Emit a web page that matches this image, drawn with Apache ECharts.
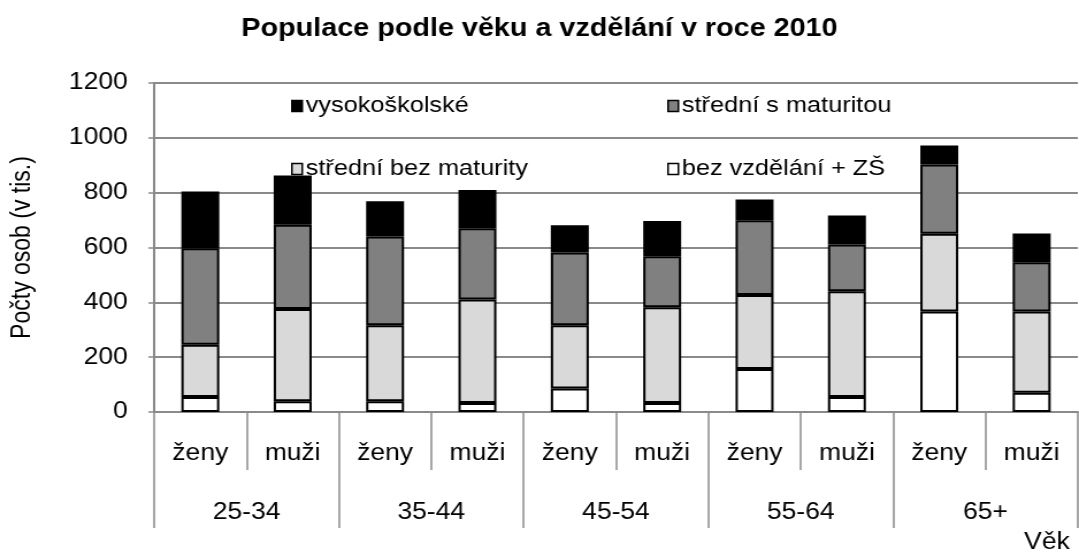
<!DOCTYPE html>
<html>
<head>
<meta charset="utf-8">
<script src="https://cdn.jsdelivr.net/npm/echarts@6/dist/echarts.min.js"></script>
<style>
  html, body { margin: 0; padding: 0; background: #fff; overflow: hidden; }
  /* the source picture is stretched sideways, so the chart is drawn narrower and widened */
  #main { width: 938px; height: 556px; transform: scaleX(1.1503); transform-origin: 0 0; }
</style>
</head>
<body>
<div id="main"></div>
<script>
var myChart = echarts.init(document.getElementById('main'));

var pohlavi = ['ženy', 'muži', 'ženy', 'muži', 'ženy', 'muži', 'ženy', 'muži', 'ženy', 'muži'];
var vekoveSkupiny = ['25-34', '35-44', '45-54', '55-64', '65+'];
var yTicks = [0, 200, 400, 600, 800, 1000, 1200];

// hodnoty v tis. osob, od spodu sloupce nahoru
var bezVzdelani = [55, 39, 39, 33, 86, 33, 157, 55, 367, 70];
var bezMaturity = [190, 337, 277, 377, 230, 349, 270, 385, 283, 297];
var sMaturitou = [352, 307, 324, 260, 266, 186, 272, 171, 253, 179];
var vysokoskolske = [207, 180, 129, 140, 99, 129, 76, 106, 69, 105];

var gray = '#8a8a8a';
var font = 'Liberation Sans, Arial, sans-serif';

function serie(name, data, color) {
    return {
        name: name,
        type: 'bar',
        stack: 'celkem',
        barWidth: 33,
        data: data,
        itemStyle: {
            color: color,
            borderColor: '#000',
            borderWidth: 2
        }
    };
}

function legenda(name, left, top) {
    return {
        data: [name],
        left: left,
        top: top,
        icon: 'rect',
        itemWidth: 9,
        itemHeight: 11,
        itemGap: 4,
        itemStyle: { borderColor: '#000', borderWidth: 1.5 },
        textStyle: { fontFamily: font, fontSize: 22, color: '#000', padding: [0, 0, 0, -2] }
    };
}

var option = {
    backgroundColor: '#fff',
    animation: false,
    title: [
        {
            text: 'Populace podle věku a vzdělání v roce 2010',
            left: 'center',
            top: 12,
            padding: [5, 0, 5, 26],
            textStyle: { fontFamily: font, fontSize: 25, fontWeight: 'bold', color: '#000' }
        },
        {
            text: 'Věk',
            right: 3,
            top: 526,
            textStyle: { fontFamily: font, fontSize: 23, fontWeight: 'normal', color: '#000' }
        }
    ],
    legend: [
        legenda('vysokoškolské', 248, 90),
        legenda('střední s maturitou', 575, 90),
        legenda('střední bez maturity', 248, 153),
        legenda('bez vzdělání + ZŠ', 575, 153)
    ],
    grid: {
        left: 133,
        right: 1,
        top: 83,
        bottom: 144
    },
    xAxis: [
        {
            type: 'category',
            data: pohlavi,
            axisLine: { lineStyle: { color: gray, width: 2 } },
            axisTick: { show: true, length: 58, lineStyle: { color: gray, width: 1.5 } },
            axisLabel: { margin: 30, fontFamily: font, fontSize: 23, color: '#000' }
        },
        {
            type: 'category',
            data: vekoveSkupiny,
            position: 'bottom',
            axisLine: { show: false },
            axisTick: { show: true, length: 116, lineStyle: { color: gray, width: 1.5 } },
            axisLabel: { margin: 89, fontFamily: font, fontSize: 23, color: '#000' }
        }
    ],
    yAxis: {
        type: 'value',
        min: yTicks[0],
        max: yTicks[yTicks.length - 1],
        interval: 200,
        name: 'Počty osob (v tis.)',
        nameLocation: 'middle',
        nameGap: 103,
        nameTextStyle: { fontFamily: font, fontSize: 23, color: '#000' },
        axisLine: { show: true, lineStyle: { color: gray, width: 2 } },
        axisTick: { show: true, length: 5, lineStyle: { color: gray, width: 1.5 } },
        axisLabel: {
            margin: 23,
            fontFamily: font,
            fontSize: 23,
            color: '#000',
            formatter: function (v) { return String(v); }
        },
        splitLine: { lineStyle: { color: gray, width: 2 } }
    },
    series: [
        serie('bez vzdělání + ZŠ', bezVzdelani, '#ffffff'),
        serie('střední bez maturity', bezMaturity, '#d9d9d9'),
        serie('střední s maturitou', sMaturitou, '#808080'),
        serie('vysokoškolské', vysokoskolske, '#000000')
    ]
};

myChart.setOption(option);
</script>
</body>
</html>
